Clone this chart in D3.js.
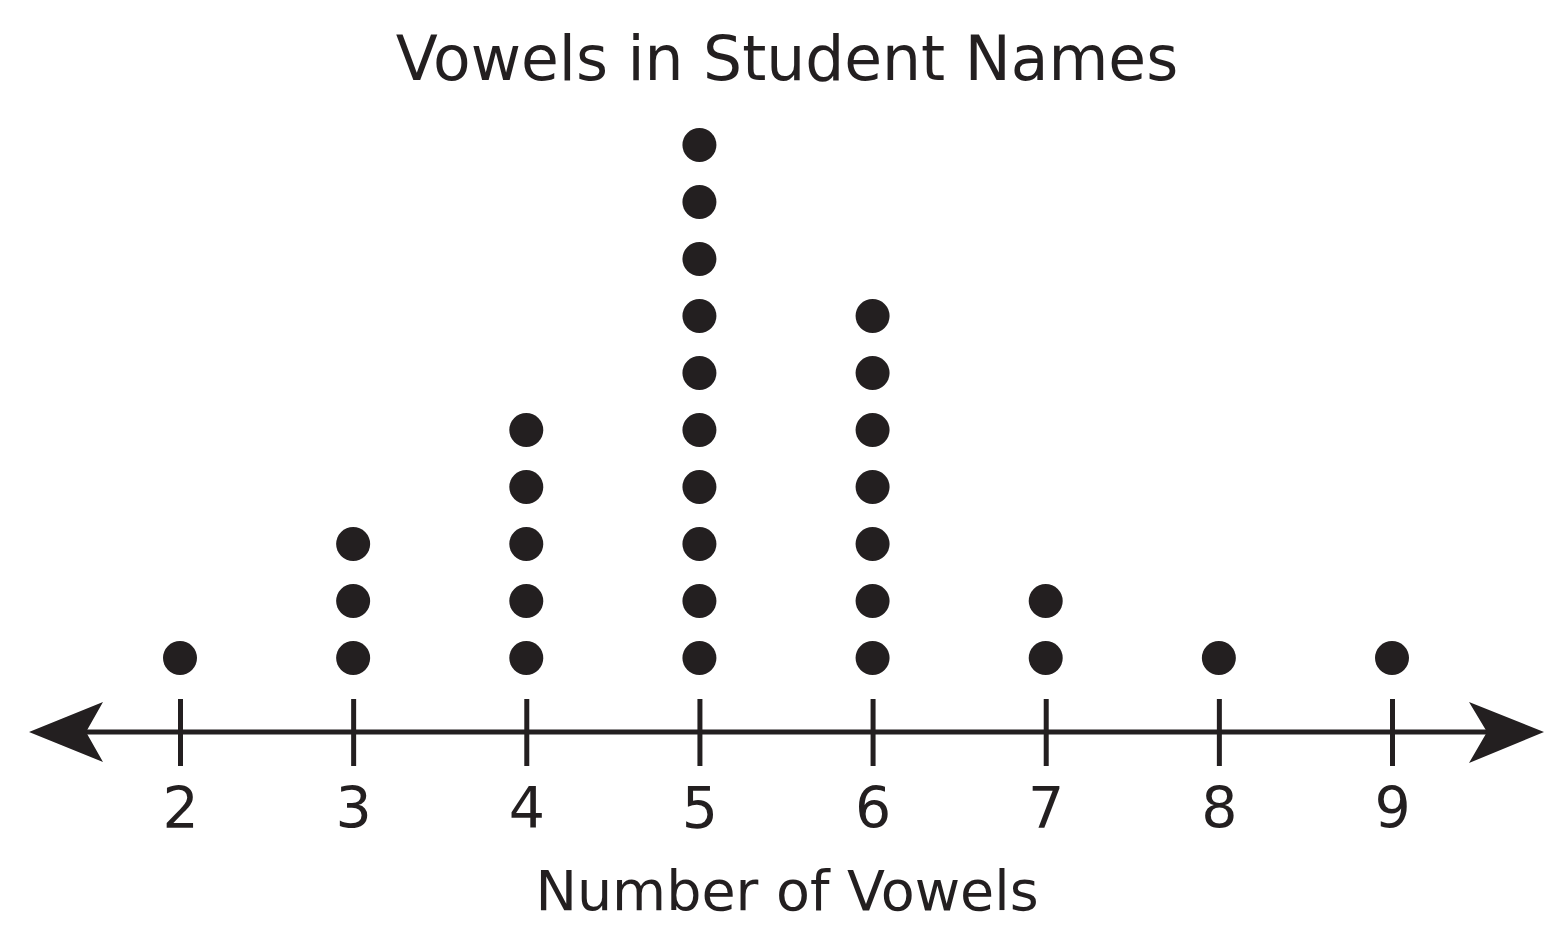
<!DOCTYPE html>
<html>
<head>
<meta charset="utf-8">
<script src="https://cdn.jsdelivr.net/npm/d3@7"></script>
<style>
  html, body { margin: 0; padding: 0; background: #fff; }
  svg { display: block; }
  text { font-family: "DejaVu Sans", Verdana, sans-serif; fill: #231f20; }
</style>
</head>
<body>
<svg id="chart" width="1566" height="945"></svg>
<script>
const title = "Vowels in Student Names";
const xTitle = "Number of Vowels";
const categories = [2, 3, 4, 5, 6, 7, 8, 9];
const counts = [1, 3, 5, 10, 7, 2, 1, 1];
const tickLabels = ["2", "3", "4", "5", "6", "7", "8", "9"];

const ink = "#231f20";
const svg = d3.select("#chart");
const axisY = 732;

const x = d3.scaleLinear().domain([2, 9]).range([180, 1392]);
const y = d3.scaleLinear().domain([0, 9]).range([658, 145]);

// title
svg.append("text")
  .attr("x", 787).attr("y", 80)
  .attr("text-anchor", "middle")
  .attr("font-size", 61.5)
  .text(title);

// axis line
svg.append("line")
  .attr("x1", 86).attr("x2", 1488)
  .attr("y1", axisY).attr("y2", axisY)
  .attr("stroke", ink).attr("stroke-width", 5);

// arrowheads
svg.append("path")
  .attr("d", `M29,${axisY} L103,702 L86,${axisY} L103,762 Z`)
  .attr("fill", ink);
svg.append("path")
  .attr("d", `M1544,${axisY} L1469,702 L1487,${axisY} L1469,763 Z`)
  .attr("fill", ink);

// ticks and labels via d3 axis
const axis = d3.axisBottom(x)
  .tickValues(categories)
  .tickFormat((d, i) => tickLabels[i])
  .tickSize(0);
const g = svg.append("g").attr("transform", `translate(0,${axisY})`).call(axis);
g.select(".domain").remove();
g.selectAll(".tick text")
  .attr("y", 96).attr("dy", 0)
  .attr("font-size", 57)
  .attr("font-family", "DejaVu Sans, Verdana, sans-serif")
  .attr("fill", ink);
g.selectAll(".tick").append("line")
  .attr("y1", -33).attr("y2", 34)
  .attr("stroke", ink).attr("stroke-width", 5);

// dots
const dots = [];
categories.forEach((c, i) => {
  for (let k = 0; k < counts[i]; k++) dots.push({ c, k });
});
svg.append("g").selectAll("circle").data(dots).join("circle")
  .attr("cx", d => x(d.c))
  .attr("cy", d => y(d.k))
  .attr("r", 17)
  .attr("fill", ink);

// x axis title
svg.append("text")
  .attr("x", 787).attr("y", 910)
  .attr("text-anchor", "middle")
  .attr("font-size", 55.5)
  .text(xTitle);
</script>
</body>
</html>
